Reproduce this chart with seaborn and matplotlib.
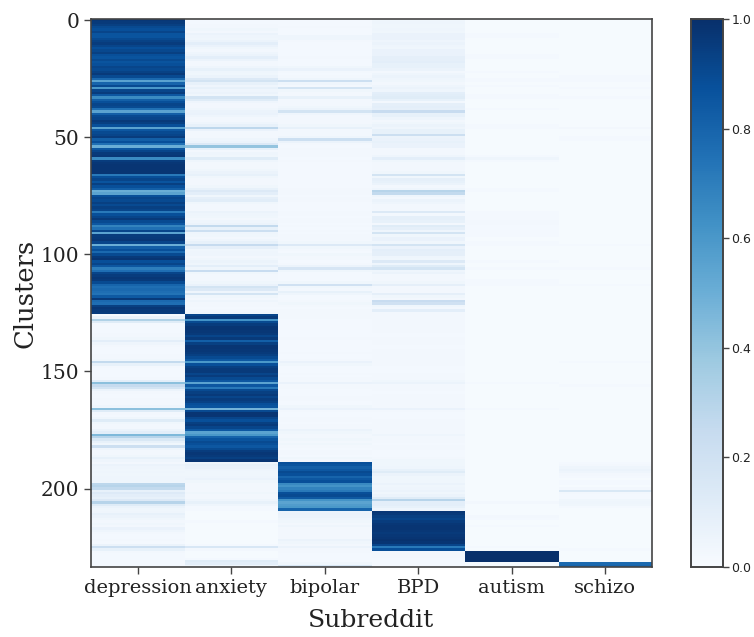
import numpy as np
import pandas as pd
import seaborn as sns
import matplotlib
matplotlib.use('Agg')
import matplotlib.pyplot as plt
from matplotlib.transforms import ScaledTranslation

# subreddit share per cluster, in percent
subreddits = ['depression', 'anxiety', 'bipolar', 'BPD', 'autism', 'schizo']

depression = [
    97, 96, 94, 90, 88, 92, 86, 86, 90, 93,
    95, 92, 88, 91, 94, 88, 86, 90, 86, 88,
    92, 90, 93, 96, 90, 78, 55, 80, 90, 60,
    92, 95, 85, 65, 82, 88, 92, 90, 75, 55,
    82, 90, 92, 96, 94, 88, 55, 85, 90, 92,
    95, 82, 88, 75, 50, 85, 92, 96, 97, 65,
    95, 97, 98, 98, 98, 98, 72, 88, 92, 86,
    94, 88, 82, 50, 55, 88, 92, 90, 94, 90,
    94, 92, 72, 88, 92, 96, 90, 85, 68, 75,
    92, 55, 95, 96, 97, 92, 50, 82, 88, 78,
    90, 96, 98, 88, 92, 85, 70, 76, 92, 95,
    97, 96, 90, 80, 76, 78, 76, 74, 84, 96,
    78, 76, 94, 97, 96, 95, 1, 6, 32, 12,
    2, 2, 2, 2, 3, 3, 4, 10, 5, 3,
    2, 2, 2, 3, 3, 4, 26, 8, 3, 2,
    2, 2, 2, 3, 10, 42, 25, 18, 6, 3,
    2, 2, 3, 3, 3, 5, 42, 12, 3, 2,
    4, 12, 4, 3, 3, 6, 10, 45, 30, 15,
    8, 4, 22, 5, 3, 3, 4, 8, 5, 3,
    6, 5, 4, 5, 4, 5, 5, 5, 28, 30,
    26, 8, 13, 10, 8, 14, 30, 12, 6, 4,
    5, 8, 6, 4, 3, 4, 3, 7, 5, 3,
    2, 2, 3, 2, 6, 22, 8, 3, 2, 2,
    2, 2, 2, 2,
]
anxiety = [
    2, 2, 3, 3, 4, 3, 6, 5, 4, 6,
    10, 7, 4, 3, 5, 6, 10, 6, 3, 3,
    5, 8, 5, 4, 6, 14, 18, 8, 5, 8,
    5, 6, 4, 18, 12, 5, 3, 3, 4, 6,
    7, 5, 3, 3, 5, 8, 28, 7, 3, 3,
    3, 5, 6, 14, 40, 8, 3, 5, 4, 12,
    5, 3, 3, 3, 4, 6, 8, 4, 3, 3,
    3, 4, 8, 14, 10, 4, 9, 11, 4, 3,
    3, 3, 6, 5, 4, 3, 5, 6, 26, 8,
    22, 5, 4, 3, 5, 8, 25, 9, 4, 5,
    5, 3, 4, 6, 5, 10, 5, 24, 4, 3,
    3, 3, 4, 7, 18, 14, 5, 18, 4, 3,
    5, 3, 3, 2, 3, 4, 92, 96, 62, 90,
    95, 98, 98, 97, 96, 92, 96, 82, 94, 98,
    98, 97, 96, 94, 90, 85, 60, 88, 94, 96,
    96, 92, 95, 90, 85, 55, 85, 72, 90, 94,
    96, 92, 95, 93, 88, 86, 48, 90, 98, 98,
    92, 88, 94, 96, 92, 85, 55, 60, 80, 86,
    90, 88, 85, 90, 95, 97, 96, 94, 98, 5,
    8, 7, 5, 4, 4, 5, 6, 4, 3, 3,
    3, 3, 4, 3, 3, 5, 8, 5, 2, 2,
    1, 1, 1, 1, 2, 1, 1, 1, 1, 1,
    1, 1, 1, 1, 2, 16, 3, 1, 1, 1,
    2, 12, 10, 4,
]
bipolar = [
    2, 2, 2, 3, 2, 2, 2, 5, 5, 3,
    2, 2, 2, 2, 2, 2, 3, 2, 2, 2,
    4, 7, 3, 2, 3, 5, 22, 5, 3, 18,
    4, 3, 3, 8, 3, 3, 3, 4, 6, 18,
    5, 3, 3, 3, 3, 4, 8, 3, 3, 3,
    5, 22, 6, 3, 2, 3, 3, 3, 3, 2,
    3, 2, 2, 2, 2, 2, 2, 2, 2, 2,
    2, 2, 3, 3, 3, 2, 3, 3, 2, 2,
    2, 2, 3, 3, 2, 3, 3, 2, 3, 2,
    3, 2, 3, 3, 3, 4, 14, 4, 3, 2,
    4, 3, 3, 2, 3, 6, 17, 4, 2, 2,
    2, 2, 4, 20, 4, 3, 8, 5, 2, 2,
    3, 4, 3, 2, 3, 3, 3, 3, 2, 2,
    2, 2, 2, 2, 2, 2, 3, 2, 2, 2,
    2, 2, 3, 2, 2, 3, 7, 4, 2, 2,
    2, 3, 2, 3, 3, 7, 3, 3, 2, 2,
    2, 3, 3, 2, 2, 4, 7, 3, 2, 2,
    3, 3, 2, 3, 3, 6, 4, 3, 3, 4,
    3, 4, 3, 2, 3, 3, 2, 4, 3, 88,
    86, 82, 85, 90, 88, 80, 85, 88, 66, 62,
    68, 72, 88, 90, 84, 62, 55, 58, 60, 80,
    6, 7, 6, 5, 4, 3, 5, 3, 3, 3,
    3, 3, 6, 4, 3, 6, 3, 3, 2, 2,
    2, 2, 4, 16,
]
bpd = [
    4, 5, 4, 4, 5, 4, 7, 7, 7, 5,
    6, 5, 4, 7, 7, 7, 9, 9, 10, 8,
    8, 6, 3, 5, 6, 5, 4, 3, 5, 6,
    5, 10, 11, 12, 8, 3, 9, 10, 9, 24,
    8, 8, 5, 3, 4, 6, 5, 8, 8, 22,
    6, 7, 8, 7, 7, 3, 3, 3, 5, 10,
    4, 3, 3, 3, 3, 4, 18, 4, 9, 8,
    6, 3, 5, 30, 26, 5, 3, 6, 5, 3,
    3, 3, 14, 3, 9, 9, 8, 3, 12, 9,
    5, 18, 4, 7, 7, 4, 18, 7, 10, 9,
    9, 5, 4, 14, 5, 12, 18, 5, 6, 3,
    3, 3, 4, 9, 3, 3, 3, 9, 4, 3,
    24, 20, 4, 3, 10, 3, 3, 3, 3, 3,
    3, 3, 3, 3, 2, 2, 3, 3, 3, 2,
    2, 3, 3, 3, 3, 3, 3, 3, 2, 2,
    2, 3, 3, 3, 4, 6, 3, 3, 3, 2,
    3, 3, 3, 3, 3, 3, 7, 3, 2, 2,
    2, 3, 3, 3, 3, 3, 3, 5, 3, 3,
    3, 2, 3, 3, 2, 2, 2, 3, 4, 4,
    4, 5, 8, 12, 6, 4, 4, 4, 6, 4,
    5, 6, 4, 6, 12, 30, 10, 10, 8, 5,
    97, 96, 94, 92, 95, 97, 98, 98, 97, 96,
    97, 98, 99, 98, 92, 72, 88, 3, 3, 3,
    2, 2, 2, 2,
]
autism = [
    1, 1, 1, 1, 1, 1, 2, 2, 1, 1,
    1, 1, 1, 1, 1, 2, 2, 1, 1, 1,
    1, 1, 2, 1, 1, 2, 2, 1, 2, 1,
    1, 1, 2, 2, 1, 1, 1, 1, 2, 1,
    1, 1, 1, 1, 1, 2, 2, 1, 1, 1,
    1, 1, 1, 1, 1, 1, 1, 1, 2, 5,
    2, 1, 1, 1, 1, 1, 1, 1, 1, 1,
    1, 1, 2, 2, 1, 1, 1, 1, 1, 1,
    1, 1, 2, 2, 2, 2, 3, 3, 2, 2,
    2, 2, 2, 1, 1, 2, 2, 1, 1, 1,
    1, 1, 1, 2, 1, 1, 2, 1, 1, 1,
    1, 2, 2, 2, 1, 1, 1, 1, 1, 1,
    1, 1, 1, 1, 1, 1, 1, 1, 1, 1,
    1, 1, 1, 1, 1, 1, 1, 1, 1, 1,
    1, 1, 1, 1, 1, 1, 1, 1, 1, 1,
    1, 1, 1, 1, 1, 2, 1, 1, 1, 1,
    1, 1, 1, 1, 1, 1, 2, 1, 1, 1,
    1, 1, 1, 1, 1, 1, 1, 1, 1, 1,
    1, 1, 1, 1, 1, 1, 1, 1, 1, 1,
    1, 1, 1, 1, 1, 1, 1, 1, 1, 1,
    1, 1, 1, 1, 1, 1, 3, 1, 1, 1,
    1, 1, 3, 2, 1, 1, 2, 1, 1, 1,
    1, 1, 1, 1, 1, 2, 1, 100, 100, 100,
    100, 100, 1, 1,
]
schizo = [
    1, 1, 1, 1, 1, 1, 1, 1, 1, 1,
    1, 1, 1, 1, 1, 1, 1, 1, 1, 1,
    1, 1, 1, 1, 2, 2, 2, 1, 1, 2,
    1, 1, 1, 2, 1, 1, 1, 1, 1, 1,
    1, 1, 1, 1, 1, 1, 3, 1, 1, 1,
    2, 2, 1, 1, 1, 1, 1, 1, 1, 1,
    1, 1, 1, 1, 1, 1, 1, 1, 1, 1,
    1, 1, 1, 1, 1, 1, 1, 1, 1, 1,
    1, 1, 1, 1, 1, 1, 1, 1, 1, 1,
    1, 1, 1, 1, 1, 1, 2, 1, 1, 1,
    1, 1, 1, 1, 1, 1, 2, 1, 1, 1,
    1, 1, 1, 2, 1, 1, 1, 1, 1, 1,
    1, 1, 1, 1, 1, 1, 1, 1, 1, 1,
    1, 1, 1, 1, 1, 1, 1, 1, 1, 1,
    1, 1, 1, 1, 1, 1, 2, 1, 1, 1,
    1, 1, 1, 1, 1, 1, 2, 1, 1, 1,
    1, 1, 1, 1, 1, 1, 1, 1, 1, 1,
    1, 1, 1, 1, 1, 1, 1, 1, 1, 1,
    1, 1, 1, 1, 1, 1, 1, 1, 1, 2,
    3, 5, 6, 5, 3, 2, 1, 2, 2, 1,
    3, 15, 3, 2, 2, 4, 5, 4, 2, 1,
    1, 1, 1, 1, 1, 1, 1, 1, 1, 1,
    1, 1, 1, 1, 1, 1, 2, 1, 1, 1,
    1, 1, 78, 80,
]

yticks = [0, 50, 100, 150, 200]

shares = pd.DataFrame(dict(zip(subreddits, [depression, anxiety, bipolar, bpd, autism, schizo]))) / 100

W, H = 754, 637
fig = plt.figure(figsize=(W / 100, H / 100), dpi=100)
ax = fig.add_axes([91 / W, 1 - 567 / H, 561 / W, 548 / H])
cax = fig.add_axes([691 / W, 1 - 567 / H, 32 / W, 548 / H])

sns.heatmap(shares, ax=ax, cbar_ax=cax, cmap='Blues', vmin=0, vmax=1)

ax.set_yticks([y + 0.5 for y in yticks])
ax.set_yticklabels(yticks, rotation=0, family='DejaVu Serif', fontsize=14.5, color='#222222')
ax.set_xticklabels(subreddits, rotation=0, family='DejaVu Serif', fontsize=14, color='#222222')
ax.tick_params(length=5, width=1, color='#444444')
ax.set_xlabel('Subreddit', family='DejaVu Serif', fontsize=18, color='#222222', labelpad=9)
ax.set_ylabel('Clusters', family='DejaVu Serif', fontsize=18.5, color='#222222', labelpad=2)
for s in ax.spines.values():
    s.set_visible(True)
    s.set_linewidth(1.2)
    s.set_color('#444444')

# y labels sit a little under their ticks in the original
shift = ScaledTranslation(0, -1.5 / 72, fig.dpi_scale_trans)
for lbl in ax.get_yticklabels():
    lbl.set_transform(lbl.get_transform() + shift)

cax.set_yticks([0, 0.2, 0.4, 0.6, 0.8, 1.0])
cax.tick_params(labelsize=9, length=4, width=1, pad=2, color='#444444', labelcolor='#222222')
for s in cax.spines.values():
    s.set_visible(True)
    s.set_linewidth(1.2)
    s.set_color('#444444')

fig.savefig('out.png', dpi=100)
